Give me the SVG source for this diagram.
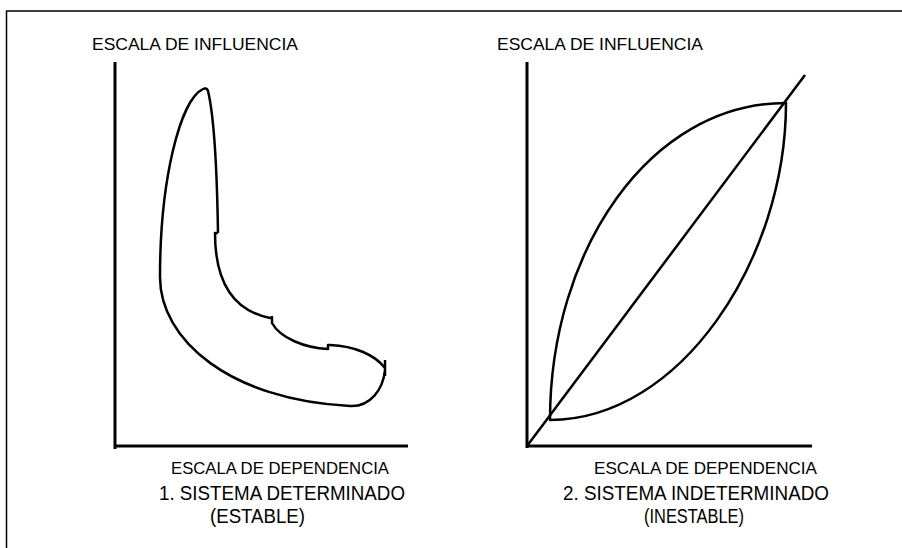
<svg xmlns="http://www.w3.org/2000/svg" width="902" height="548" viewBox="0 0 902 548">
<style>
  .ln{fill:none;stroke:#000;stroke-linecap:butt;stroke-linejoin:round}
  .ax{stroke-width:3}
  .cv{stroke-width:2.5}
  .t{font-family:"Liberation Sans",Arial,sans-serif;fill:#000}
  .s{font-size:17px}
  .b{font-size:20px}
</style>
<rect width="902" height="548" fill="#fff"/>
<path id="frame" class="ln" d="M6.5,548 V11 H902" stroke-width="1.5"/>

<g id="chart1">
  <path class="ln ax" d="M115,62 V449 M115,446 H408"/>
  <path class="ln cv" d="M218,233 C217,170 215,120 208,91 C207,88 205,88 203,89 C180,100 160,180 160,277 C160,340 230,400 350,406 C370,407 383,390 385,370 M385,360 V376 M385,368 C375,355 355,346 330,345 L328,345 L328,349 C305,348 280,338 272,323 L272,317 L270,318 C240,312 215,290 215,233 L218,233"/>
  <text class="t s" x="92" y="50" textLength="206" lengthAdjust="spacingAndGlyphs">ESCALA DE INFLUENCIA</text>
  <text class="t s" x="171" y="474" textLength="218" lengthAdjust="spacingAndGlyphs">ESCALA DE DEPENDENCIA</text>
  <text class="t b" x="159" y="500" textLength="246" lengthAdjust="spacingAndGlyphs">1. SISTEMA DETERMINADO</text>
  <text class="t b" x="210" y="523" textLength="95" lengthAdjust="spacingAndGlyphs">(ESTABLE)</text>
</g>

<g id="chart2">
  <path class="ln ax" d="M527,62 V448 M527,446 H812"/>
  <path class="ln cv" d="M527,446 L805,75"/>
  <path class="ln cv" d="M786,103 C786,260 680,420 550,420 C550,250 650,103 786,103 Z"/>
  <text class="t s" x="497" y="50" textLength="206" lengthAdjust="spacingAndGlyphs">ESCALA DE INFLUENCIA</text>
  <text class="t s" x="594" y="474" textLength="223" lengthAdjust="spacingAndGlyphs">ESCALA DE DEPENDENCIA</text>
  <text class="t b" x="563" y="500" textLength="266" lengthAdjust="spacingAndGlyphs">2. SISTEMA INDETERMINADO</text>
  <text class="t b" x="644" y="523" textLength="100" lengthAdjust="spacingAndGlyphs">(INESTABLE)</text>
</g>
</svg>
